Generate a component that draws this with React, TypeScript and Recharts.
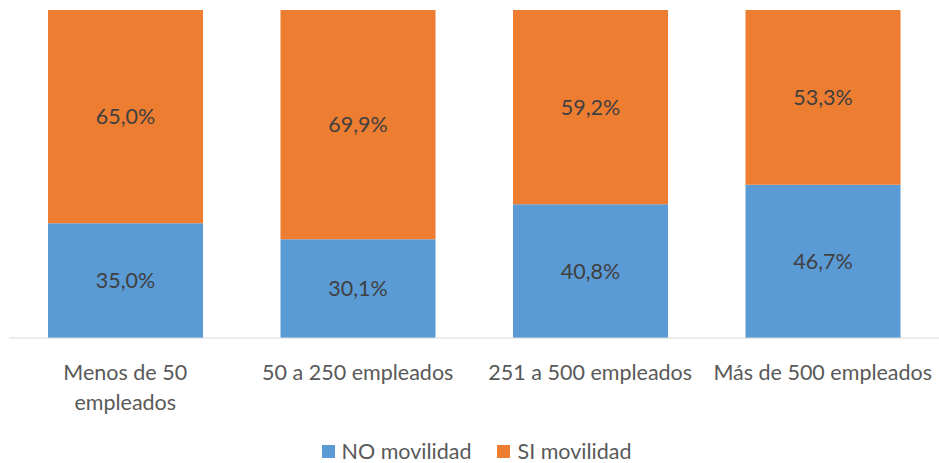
import { BarChart, Bar, XAxis, YAxis, LabelList } from "recharts";

const categories = ["Menos de 50\nempleados", "50 a 250 empleados", "251 a 500 empleados", "Más de 500 empleados"];
const noMovilidad = [35.0, 30.1, 40.8, 46.7];
const siMovilidad = [65.0, 69.9, 59.2, 53.3];

const BLUE = "#5B9BD5";
const ORANGE = "#ED7D31";
const FONT = "Lato, 'Open Sans', sans-serif";
const FS = 21.5;

const data = categories.map((name, i) => ({ name, no: noMovilidad[i], si: siMovilidad[i] }));

const fmt = (v: any) => `${Number(v).toFixed(1).replace(".", ",")}%`;

function CategoryTick({ x, y, payload }: any) {
  const lines = String(payload.value).split("\n");
  return (
    <text x={x} y={y} textAnchor="middle" fill="#595959" fontSize={FS} fontFamily={FONT}>
      {lines.map((l, i) => (
        <tspan key={i} x={x} dy={i === 0 ? 34 : 30}>
          {l}
        </tspan>
      ))}
    </text>
  );
}

function LegendContent() {
  const items = [
    { label: "NO movilidad", color: BLUE },
    { label: "SI movilidad", color: ORANGE },
  ];
  return (
    <div style={{ display: "flex", justifyContent: "center", gap: 26, fontFamily: FONT, fontSize: FS, color: "#595959", paddingLeft: 14 }}>
      {items.map((it) => (
        <div key={it.label} style={{ display: "flex", alignItems: "center", gap: 7 }}>
          <span style={{ width: 13, height: 13, background: it.color, display: "inline-block" }} />
          <span>{it.label}</span>
        </div>
      ))}
    </div>
  );
}

export default function App() {
  return (
    <div style={{ position: "absolute", left: 0, top: 0, width: 939, height: 463, background: "#fff" }}>
      <BarChart width={939} height={463} data={data} margin={{ top: 10, right: 0, left: 9, bottom: 35 }} barSize={155}>
        <XAxis dataKey="name" axisLine={{ stroke: "#D9D9D9" }} tickLine={false} height={90} tick={<CategoryTick />} interval={0} />
        <YAxis hide domain={[0, 100]} />
        <Bar dataKey="no" name="NO movilidad" stackId="a" fill={BLUE} isAnimationActive={false}>
          <LabelList dataKey="no" position="center" formatter={fmt} fill="#404040" fontSize={FS} fontFamily={FONT} />
        </Bar>
        <Bar dataKey="si" name="SI movilidad" stackId="a" fill={ORANGE} isAnimationActive={false}>
          <LabelList dataKey="si" position="center" formatter={fmt} fill="#404040" fontSize={FS} fontFamily={FONT} />
        </Bar>
      </BarChart>
      <div style={{ position: "absolute", left: 0, top: 438, width: 939 }}>
        <LegendContent />
      </div>
    </div>
  );
}
